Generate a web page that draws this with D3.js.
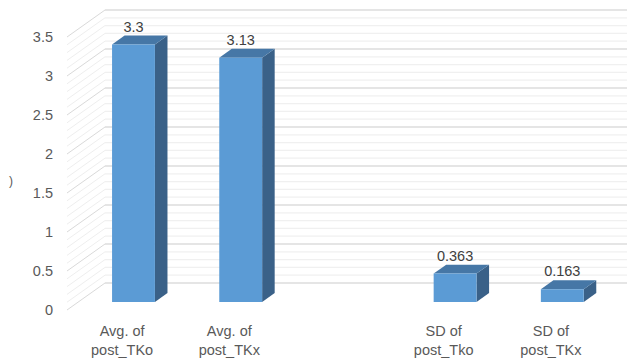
<!DOCTYPE html>
<html><head><meta charset="utf-8">
<script src="https://cdn.jsdelivr.net/npm/d3@7"></script>
<style>body{margin:0;background:#fff}svg{display:block}</style>
</head><body>
<svg id="c" width="627" height="362"></svg>
<script>
const categories = ["Avg. of\npost_TKo", "Avg. of\npost_TKx", " ", "SD of\npost_Tko", "SD of\npost_TKx"];
const values = [3.3, 3.13, null, 0.363, 0.163];
const valueLabels = ["3.3", "3.13", "", "0.363", "0.163"];
const yTicks = [0, 0.5, 1, 1.5, 2, 2.5, 3, 3.5];
const minorTicks = d3.range(0, 36).map(i => i / 10);

const svg = d3.select("#c");
const W = 627, H = 362;
const DX = 38, DY = 27;          // depth projection of the whole chart
const dFront = 0.3, dBack = 0.63; // bar depth within the chart
const y = d3.scaleLinear().domain([0, 3.5]).range([310, 37]);
const x = d3.scaleBand().domain(categories).range([68.5, 604.5]).padding(0);
const P = (px, v, d) => [px + d * DX, y(v) - d * DY];
const font = "'Liberation Sans', Arial, sans-serif";

// back wall gridlines
const g = svg.append("g");
minorTicks.forEach(v => {
  const major = yTicks.some(t => Math.abs(t - v) < 1e-9);
  if (major) return;
  const [bx, by] = P(67, v, 1);
  g.append("line").attr("x1", 67).attr("y1", y(v)).attr("x2", bx).attr("y2", by)
    .attr("stroke", "#eeeeee").attr("stroke-width", 1);
  g.append("line").attr("x1", bx).attr("y1", by).attr("x2", W).attr("y2", by)
    .attr("stroke", "#f0f0f0").attr("stroke-width", 1.2);
});
yTicks.forEach(v => {
  const [bx, by] = P(67, v, 1);
  g.append("line").attr("x1", 67).attr("y1", y(v)).attr("x2", bx).attr("y2", by)
    .attr("stroke", "#d9d9d9").attr("stroke-width", 1);
  g.append("line").attr("x1", bx).attr("y1", by).attr("x2", W).attr("y2", by)
    .attr("stroke", "#dddddd").attr("stroke-width", 1.5);
});

// y tick labels
svg.append("g").selectAll("text").data(yTicks).join("text")
  .attr("x", 53).attr("y", d => y(d) + 5)
  .attr("text-anchor", "end").attr("font-family", font).attr("font-size", 14.5)
  .attr("fill", "#595959").text(d => d3.format("")(d));

// bars
const bw = x.bandwidth() * 0.4;
const bars = svg.append("g");
categories.forEach((c, i) => {
  const v = values[i];
  if (v == null) return;
  const cx = x(c) + x.bandwidth() / 2;
  const x0 = cx - bw / 2, x1 = cx + bw / 2;
  const fTL = P(x0, v, dFront), fTR = P(x1, v, dFront), fBR = P(x1, 0, dFront), fBL = P(x0, 0, dFront);
  const bTL = P(x0, v, dBack), bTR = P(x1, v, dBack), bBR = P(x1, 0, dBack);
  const poly = pts => pts.map(p => p.join(",")).join(" ");
  bars.append("polygon").attr("points", poly([fTR, bTR, bBR, fBR])).attr("fill", "#3a6188");
  bars.append("polygon").attr("points", poly([fTL, bTL, bTR, fTR])).attr("fill", "#4677a6");
  bars.append("polygon").attr("points", poly([fTL, fTR, fBR, fBL])).attr("fill", "#5b9bd5");
  const lx = P(cx, v, dFront)[0];
  const ly = P(cx, v, dBack)[1] - 4;
  bars.append("text").attr("x", lx).attr("y", ly).attr("text-anchor", "middle")
    .attr("font-family", font).attr("font-size", 14.5).attr("fill", "#404040")
    .text(valueLabels[i]);
});

// category labels
categories.forEach(c => {
  const cx = x(c) + x.bandwidth() / 2;
  const lines = c.split("\n");
  const t = svg.append("text").attr("text-anchor", "middle")
    .attr("font-family", font).attr("font-size", 14.5).attr("fill", "#595959");
  lines.forEach((ln, k) => t.append("tspan").attr("x", cx).attr("y", 336 + k * 19).text(ln));
});

// clipped axis title remnant
svg.append("text").attr("x", 11).attr("y", 185).attr("text-anchor", "middle")
  .attr("font-family", font).attr("font-size", 12).attr("fill", "#595959").text(")");
</script>
</body></html>
